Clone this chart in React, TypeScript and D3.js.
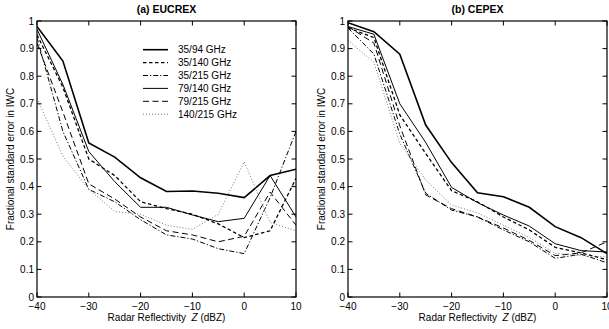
import React from "react";
import * as d3 from "d3";

const xVals = [-40, -35, -30, -25, -20, -15, -10, -5, 0, 5, 10];
const xTicks = [-40, -30, -20, -10, 0, 10];
const yTicks = [0, 0.1, 0.2, 0.3, 0.4, 0.5, 0.6, 0.7, 0.8, 0.9, 1];
const seriesNames = ["35/94 GHz", "35/140 GHz", "35/215 GHz", "79/140 GHz", "79/215 GHz", "140/215 GHz"];

// (a) EUCREX
const eu3594 = [0.98, 0.855, 0.558, 0.507, 0.432, 0.382, 0.384, 0.376, 0.36, 0.44, 0.463];
const eu35140 = [0.95, 0.76, 0.5, 0.44, 0.345, 0.32, 0.3, 0.265, 0.215, 0.24, 0.43];
const eu35215 = [0.94, 0.6, 0.39, 0.345, 0.28, 0.225, 0.21, 0.175, 0.157, 0.36, 0.6];
const eu79140 = [0.97, 0.77, 0.527, 0.418, 0.325, 0.325, 0.297, 0.273, 0.285, 0.44, 0.29];
const eu79215 = [0.92, 0.67, 0.41, 0.355, 0.29, 0.24, 0.225, 0.2, 0.22, 0.38, 0.26];
const eu140215 = [0.72, 0.51, 0.39, 0.31, 0.3, 0.26, 0.245, 0.3, 0.49, 0.27, 0.24];

// (b) CEPEX
const ce3594 = [0.994, 0.961, 0.88, 0.623, 0.487, 0.378, 0.363, 0.325, 0.255, 0.215, 0.157];
const ce35140 = [0.975, 0.94, 0.66, 0.52, 0.385, 0.345, 0.29, 0.243, 0.18, 0.16, 0.135];
const ce35215 = [0.975, 0.88, 0.59, 0.376, 0.315, 0.29, 0.243, 0.2, 0.14, 0.155, 0.124];
const ce79140 = [0.98, 0.952, 0.7, 0.56, 0.397, 0.342, 0.297, 0.257, 0.193, 0.168, 0.163];
const ce79215 = [0.98, 0.92, 0.62, 0.37, 0.32, 0.29, 0.25, 0.205, 0.15, 0.16, 0.2];
const ce140215 = [0.93, 0.85, 0.557, 0.424, 0.333, 0.305, 0.26, 0.216, 0.158, 0.15, 0.145];

const styles = [
  { w: 1.6, dash: "", color: "#000" },
  { w: 1.3, dash: "3.5,2.5", color: "#000" },
  { w: 1.0, dash: "5,2,1.2,2", color: "#000" },
  { w: 1.0, dash: "", color: "#000" },
  { w: 1.0, dash: "6,3.5", color: "#000" },
  { w: 1.0, dash: "1,2", color: "#777" },
];

const panels = [
  { title: "(a) EUCREX", left: 37, series: [eu3594, eu35140, eu35215, eu79140, eu79215, eu140215], legend: true },
  { title: "(b) CEPEX", left: 348, series: [ce3594, ce35140, ce35215, ce79140, ce79215, ce140215], legend: false },
];

const W = 259;
const TOP = 21;
const BOTTOM = 297;
const FONT = "'Liberation Sans', Arial, sans-serif";
const FS = 10;

function fmtX(v: number) {
  return v < 0 ? "\u2212" + Math.abs(v) : String(v);
}
function fmtY(v: number) {
  return v === 0 || v === 1 ? String(v) : v.toFixed(1);
}

function Panel({ p }: { p: (typeof panels)[number] }) {
  const x = d3.scaleLinear().domain([-40, 10]).range([p.left, p.left + W]);
  const y = d3.scaleLinear().domain([0, 1]).range([BOTTOM, TOP]);
  const line = d3
    .line<number>()
    .x((_, i) => x(xVals[i]))
    .y((d) => y(d));
  const tl = 4.5;
  const cx = p.left + W / 2;
  return (
    <g>
      <text x={cx} y={13} textAnchor="middle" fontFamily={FONT} fontSize={10.5} fontWeight="bold">
        {p.title}
      </text>
      <defs>
        <clipPath id={"clip" + p.left}>
          <rect x={p.left} y={TOP} width={W} height={BOTTOM - TOP} />
        </clipPath>
      </defs>
      <g clipPath={`url(#clip${p.left})`}>
        {p.series.map((s, i) => (
          <path
            key={i}
            d={line(s) || ""}
            fill="none"
            stroke={styles[i].color}
            strokeWidth={styles[i].w}
            strokeDasharray={styles[i].dash}
            strokeLinejoin="miter"
          />
        ))}
      </g>
      <rect x={p.left} y={TOP} width={W} height={BOTTOM - TOP} fill="none" stroke="#000" strokeWidth={1.2} />
      {xTicks.map((t) => (
        <g key={"x" + t}>
          <line x1={x(t)} x2={x(t)} y1={BOTTOM} y2={BOTTOM - tl} stroke="#000" strokeWidth={1} />
          <line x1={x(t)} x2={x(t)} y1={TOP} y2={TOP + tl} stroke="#000" strokeWidth={1} />
          <text x={x(t)} y={309.5} textAnchor="middle" fontFamily={FONT} fontSize={FS}>
            {fmtX(t)}
          </text>
        </g>
      ))}
      {yTicks.map((t) => (
        <g key={"y" + t}>
          <line x1={p.left} x2={p.left + tl} y1={y(t)} y2={y(t)} stroke="#000" strokeWidth={1} />
          <line x1={p.left + W} x2={p.left + W - tl} y1={y(t)} y2={y(t)} stroke="#000" strokeWidth={1} />
          <text x={p.left - 3} y={y(t) + 3.5} textAnchor="end" fontFamily={FONT} fontSize={FS}>
            {fmtY(t)}
          </text>
        </g>
      ))}
      <text x={cx} y={320.5} textAnchor="middle" fontFamily={FONT} fontSize={FS}>
        Radar Reflectivity{"\u00a0\u00a0"}
        <tspan fontStyle="italic">Z</tspan> (dBZ)
      </text>
      <text
        transform={`translate(${p.left - 23},${(TOP + BOTTOM) / 2}) rotate(-90)`}
        textAnchor="middle"
        fontFamily={FONT}
        fontSize={FS}
      >
        Fractional standard error in IWC
      </text>
      {p.legend &&
        seriesNames.map((n, i) => {
          const ly = 49.7 + i * 12.9;
          return (
            <g key={n}>
              <line
                x1={143}
                x2={168}
                y1={ly}
                y2={ly}
                stroke={styles[i].color}
                strokeWidth={styles[i].w}
                strokeDasharray={styles[i].dash}
              />
              <text x={178} y={ly + 3.5} fontFamily={FONT} fontSize={FS}>
                {n}
              </text>
            </g>
          );
        })}
    </g>
  );
}

export default function App() {
  return (
    <svg
      width={609}
      height={329}
      style={{ position: "absolute", left: 0, top: 0, background: "#fff" }}
    >
      <rect width={609} height={329} fill="#fff" />
      {panels.map((p) => (
        <Panel key={p.title} p={p} />
      ))}
    </svg>
  );
}
